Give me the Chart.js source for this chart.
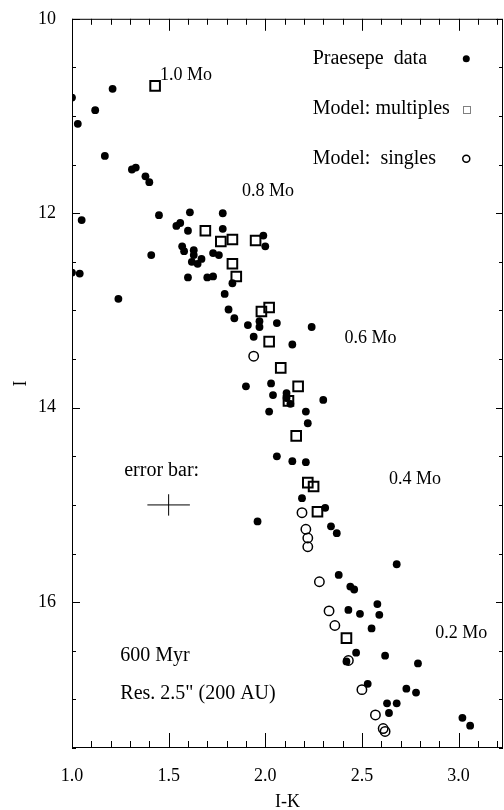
<!DOCTYPE html>
<html>
<head>
<meta charset="utf-8">
<script src="https://cdn.jsdelivr.net/npm/chart.js@4.4.1/dist/chart.umd.min.js"></script>
<style>
  html, body { margin: 0; padding: 0; background: #fff; }
  #wrap { width: 504px; height: 810px; position: relative; }
</style>
</head>
<body>
<div id="wrap"><canvas id="cmd"></canvas></div>
<script>
// Praesepe data (I-K, I)
const dataIK = [1.00, 1.21, 1.03, 1.12, 1.17, 1.31, 1.33, 1.38, 1.40, 1.45, 1.61, 1.78, 1.05, 1.54, 1.56,
  1.60, 1.78, 1.99, 2.00, 1.41, 1.57, 1.58, 1.63, 1.63, 1.62, 1.65, 1.67, 1.73, 1.76, 1.00, 1.04,
  1.60, 1.70, 1.73, 1.83, 1.79, 1.24, 1.81, 1.84, 1.91, 1.97, 1.97, 2.06, 2.24, 1.94, 2.14, 1.90,
  2.03, 2.04, 2.11, 2.11, 2.13, 2.30, 2.02, 2.21, 2.22, 2.06, 2.14, 2.21, 2.19, 2.31, 1.96, 2.34,
  2.37, 2.68, 2.38, 2.44, 2.46, 2.58, 2.43, 2.49, 2.59, 2.55, 2.47, 2.62, 2.42, 2.79, 2.53, 2.73,
  2.78, 2.63, 2.68, 2.64, 3.02, 3.06];
const dataI = [10.81, 10.72, 11.08, 10.94, 11.41, 11.55, 11.53, 11.62, 11.68, 12.02, 11.99, 12.00, 12.07, 12.13, 12.10,
  12.18, 12.16, 12.23, 12.34, 12.43, 12.34, 12.39, 12.38, 12.43, 12.50, 12.52, 12.47, 12.41, 12.43, 12.61, 12.62,
  12.66, 12.66, 12.65, 12.72, 12.83, 12.88, 12.99, 13.08, 13.15, 13.11, 13.17, 13.13, 13.17, 13.27, 13.35, 13.78,
  13.75, 13.87, 13.85, 13.90, 13.96, 13.92, 14.04, 14.04, 14.16, 14.50, 14.55, 14.56, 14.93, 15.03, 15.17, 15.22,
  15.29, 15.61, 15.72, 15.84, 15.87, 16.02, 16.08, 16.12, 16.13, 16.27, 16.52, 16.55, 16.61, 16.63, 16.84, 16.89,
  16.93, 17.04, 17.04, 17.14, 17.19, 17.27];

// Model: multiples
const multIK = [1.43, 1.69, 1.77, 1.83, 1.95, 1.83, 1.85, 2.02, 1.98, 2.02, 2.08, 2.17, 2.12, 2.16, 2.22, 2.25, 2.27, 2.42];
const multI = [10.69, 12.18, 12.29, 12.27, 12.28, 12.52, 12.65, 12.97, 13.01, 13.32, 13.59, 13.78, 13.93, 14.29, 14.77, 14.81, 15.07, 16.37];

// Model: singles
const singIK = [1.94, 2.19, 2.21, 2.22, 2.22, 2.28, 2.33, 2.36, 2.43, 2.50, 2.57, 2.61, 2.62];
const singI = [13.47, 15.08, 15.25, 15.34, 15.43, 15.79, 16.09, 16.24, 16.60, 16.90, 17.16, 17.30, 17.33];

// axis tick labels
const xTicks = [1.0, 1.5, 2.0, 2.5, 3.0];
const yTicks = [10, 12, 14, 16];

// text labels: [text, I-K, I, size]
const notes = [
  ['1.0 Mo', 1.455, 10.58, 18],
  ['0.8 Mo', 1.88, 11.77, 18],
  ['0.6 Mo', 2.41, 13.29, 18],
  ['0.4 Mo', 2.64, 14.74, 18],
  ['0.2 Mo', 2.88, 16.32, 18],
  ['error bar:', 1.27, 14.65, 20],
  ['600 Myr', 1.25, 16.55, 20],
  ['Res. 2.5" (200 AU)', 1.25, 16.94, 20]
];

// typical error
const errCenter = [1.5, 15.0];
const errIK = 0.11;
const errI = 0.11;

const FONT = 'Liberation Serif';
Chart.defaults.font.family = FONT;
Chart.defaults.color = '#000';

const pts = (xs, ys) => xs.map((x, i) => ({ x: x, y: ys[i] }));

const framePlugin = {
  id: 'frame',
  afterDraw(chart) {
    const { ctx, chartArea: a, scales: { x, y } } = chart;
    ctx.save();
    ctx.strokeStyle = '#000';
    ctx.lineWidth = 1;
    ctx.strokeRect(a.left + 0.5, a.top + 0.5, a.right - a.left - 1, a.bottom - a.top - 1);

    // tick marks, all inward
    ctx.beginPath();
    for (let v = 1.0; v <= 3.2001; v += 0.1) {
      const px = Math.round(x.getPixelForValue(v)) + 0.5;
      const major = Math.abs(v * 2 - Math.round(v * 2)) < 1e-6;
      ctx.moveTo(px, a.bottom); ctx.lineTo(px, a.bottom - (major ? 15 : 7));
      ctx.moveTo(px, a.top); ctx.lineTo(px, a.top + (major ? 12 : 6));
    }
    for (let v = 10; v <= 17.5; v += 0.5) {
      const py = Math.round(y.getPixelForValue(v)) + 0.5;
      const major = v % 2 === 0;
      ctx.moveTo(a.left, py); ctx.lineTo(a.left + (major ? 8 : 4), py);
      ctx.moveTo(a.right, py); ctx.lineTo(a.right - (major ? 7 : 4), py);
    }
    ctx.stroke();

    // error bar
    const cx = x.getPixelForValue(errCenter[0]);
    const cy = y.getPixelForValue(errCenter[1]);
    ctx.beginPath();
    ctx.moveTo(x.getPixelForValue(errCenter[0] - errIK), cy);
    ctx.lineTo(x.getPixelForValue(errCenter[0] + errIK), cy);
    ctx.moveTo(cx, y.getPixelForValue(errCenter[1] - errI));
    ctx.lineTo(cx, y.getPixelForValue(errCenter[1] + errI));
    ctx.stroke();

    // labels
    ctx.fillStyle = '#000';
    ctx.textBaseline = 'middle';
    ctx.textAlign = 'left';
    notes.forEach(n => {
      ctx.font = n[3] + 'px "' + FONT + '"';
      ctx.fillText(n[0], x.getPixelForValue(n[1]), y.getPixelForValue(n[2]));
    });

    // legend
    const lx = x.getPixelForValue(2.245);
    const mx = x.getPixelForValue(3.04);
    const rows = [10.41, 10.93, 11.44].map(v => y.getPixelForValue(v));
    ctx.font = '20px "' + FONT + '"';
    ctx.fillText('Praesepe  data', lx, rows[0]);
    ctx.fillText('Model: multiples', lx, rows[1]);
    ctx.fillText('Model:  singles', lx, rows[2]);
    ctx.beginPath();
    ctx.arc(mx, rows[0], 3.5, 0, Math.PI * 2);
    ctx.fill();
    ctx.setLineDash([1, 1]);
    ctx.strokeRect(Math.round(mx - 3.5) + 0.5, Math.round(rows[1] - 3.5) + 0.5, 7, 7);
    ctx.setLineDash([]);
    ctx.lineWidth = 1.5;
    ctx.beginPath();
    ctx.arc(mx, rows[2], 3.5, 0, Math.PI * 2);
    ctx.stroke();
    ctx.restore();
  }
};

new Chart(document.getElementById('cmd'), {
  type: 'scatter',
  data: {
    datasets: [
      {
        label: 'Praesepe data',
        data: pts(dataIK, dataI),
        pointStyle: 'circle',
        pointRadius: 3.9,
        backgroundColor: '#000',
        borderColor: '#000',
        borderWidth: 0
      },
      {
        label: 'Model: multiples',
        data: pts(multIK, multI),
        pointStyle: 'rect',
        pointRadius: 6.8,
        backgroundColor: 'rgba(0,0,0,0)',
        borderColor: '#000',
        borderWidth: 2
      },
      {
        label: 'Model: singles',
        data: pts(singIK, singI),
        pointStyle: 'circle',
        pointRadius: 4.7,
        backgroundColor: 'rgba(0,0,0,0)',
        borderColor: '#000',
        borderWidth: 1.5
      }
    ]
  },
  options: {
    responsive: true,
    maintainAspectRatio: false,
    animation: false,
    devicePixelRatio: 1,
    layout: { autoPadding: false, padding: { top: 12, right: 1, left: 0, bottom: 0 } },
    plugins: {
      legend: { display: false },
      tooltip: { enabled: false }
    },
    scales: {
      x: {
        type: 'linear',
        min: 1.0,
        max: 3.23,
        afterBuildTicks: s => { s.ticks = xTicks.map(v => ({ value: v })); },
        afterFit: s => { s.height = 62; s.paddingLeft = 0; s.paddingRight = 0; },
        ticks: {
          callback: v => Number(v).toFixed(1),
          font: { size: 18 },
          color: '#000',
          padding: 9,
          maxRotation: 0,
          autoSkip: false
        },
        grid: { display: false },
        border: { display: false },
        title: { display: true, text: 'I-K', font: { size: 18 }, color: '#000', padding: { top: 0, bottom: -3 } }
      },
      y: {
        type: 'linear',
        reverse: true,
        min: 10,
        max: 17.5,
        afterBuildTicks: s => { s.ticks = yTicks.map(v => ({ value: v })); },
        afterFit: s => { s.width = 72; },
        ticks: {
          callback: v => String(v),
          font: { size: 18 },
          color: '#000',
          padding: 8,
          autoSkip: false
        },
        grid: { display: false },
        border: { display: false },
        title: { display: true, text: 'I', font: { size: 18 }, color: '#000', padding: { top: 10, bottom: 0 } }
      }
    }
  },
  plugins: [framePlugin]
});
</script>
</body>
</html>
